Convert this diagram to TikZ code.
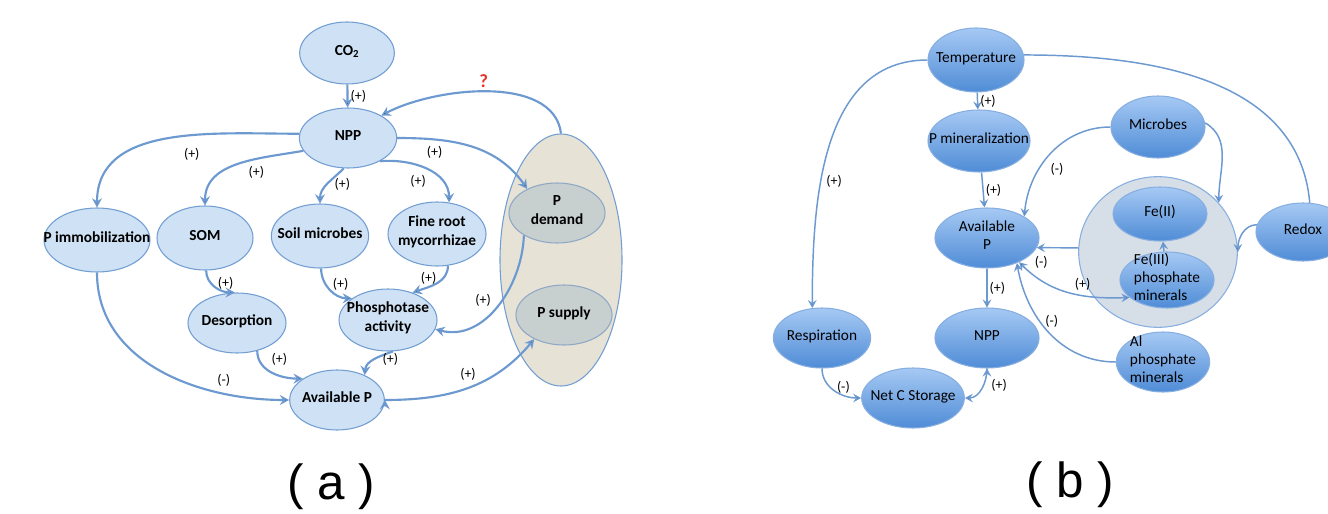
\documentclass[tikz,border=0pt]{standalone}
\usepackage{fontspec}
\setmainfont{Carlito}
\newfontfamily\capfont{Liberation Sans}
\usetikzlibrary{shapes.geometric,arrows.meta}

\definecolor{edgeblue}{HTML}{6C99D0}
\definecolor{lfill}{HTML}{CFE1F4}
\definecolor{lline}{HTML}{729ED3}
\definecolor{gfill}{HTML}{C8D0CF}
\definecolor{gline}{HTML}{8EA8C6}
\definecolor{beige}{HTML}{E6E2D6}
\definecolor{rtop}{HTML}{A6C9F4}
\definecolor{rbot}{HTML}{4F8CD6}
\definecolor{rline}{HTML}{86AEE0}
\definecolor{greyblue}{HTML}{D6DEE8}
\definecolor{qred}{HTML}{E5302E}

% node text takes no room, so the ellipse keeps its set size
\newcommand{\lbl}[1]{\raisebox{-3.6pt}{\smash{\makebox[0pt]{\begin{tabular}{@{}c@{}}#1\end{tabular}}}}}
\newcommand{\lbll}[1]{\raisebox{-3.6pt}{\smash{\makebox[0pt]{\begin{tabular}{@{}l@{}}#1\end{tabular}}}}}

\tikzset{
  lnode/.style={ellipse, draw=lline, fill=lfill, line width=0.8pt, minimum width=73pt,
    minimum height=46pt, inner sep=0pt, font=\fontsize{11.5}{14}\selectfont\bfseries},
  gnode/.style={lnode, fill=gfill, draw=gline},
  rnode/.style={ellipse, draw=rline, top color=rtop, bottom color=rbot, line width=0.8pt,
    minimum width=73pt, minimum height=45pt, inner sep=0pt, font=\fontsize{11.5}{13.5}\selectfont},
  larr/.style={draw=edgeblue, line width=1.6pt, -{Stealth[length=7pt,width=7.5pt,inset=2.5pt]}},
  rarr/.style={draw=edgeblue, line width=1.1pt, ->},
  sign/.style={font=\fontsize{10.5}{12}\selectfont, inner sep=1.5pt, text=black},
  >={Stealth[length=6pt,width=6.5pt,inset=2.2pt]}
}

\begin{document}
\begin{tikzpicture}[x=0.75pt,y=0.75pt]
\useasboundingbox (0,0) rectangle (1328,-514);

% (a)
\node[ellipse, draw=lline, fill=beige, line width=0.8pt, minimum width=91.5pt,
  minimum height=189pt, inner sep=0pt] (pbox) at (561,-260) {};
\node[lnode, minimum width=71pt, minimum height=46.5pt] (co2) at (347,-53) {\lbl{CO\textsubscript{2}}};
\node[lnode, minimum height=45pt] (npp) at (348,-138) {\lbl{NPP}};
\node[lnode, minimum width=79.5pt, minimum height=48pt] (pim) at (97,-240) {\lbl{P immobilization}};
\node[lnode, minimum width=72pt, minimum height=48pt] (som) at (205,-238) {\lbl{SOM}};
\node[lnode, minimum height=48pt] (smic) at (320,-236) {\lbl{Soil microbes}};
\node[lnode, minimum width=73.5pt, minimum height=48pt] (froot) at (437,-234) {\lbl{Fine root\\mycorrhizae}};
\node[lnode, minimum width=73.5pt, minimum height=45pt] (deso) at (237,-323) {\lbl{Desorption}};
\node[lnode, minimum width=73.5pt, minimum height=46.5pt] (phos) at (388,-320) {\lbl{Phosphotase\\activity}};
\node[lnode, minimum width=71pt, minimum height=45pt] (avp) at (337,-400) {\lbl{Available P}};
\node[gnode, minimum width=72pt, minimum height=45pt] (pdem) at (557,-213) {\lbl{P\\demand}};
\node[gnode, minimum width=72pt, minimum height=45pt] (psup) at (564,-315) {\lbl{P supply}};

\path[larr]
  (co2) edge node[sign,right] {(+)} (npp)
  (pbox.north) edge[out=97,in=28,looseness=0.85] node[pos=0.52,above=-1pt,text=qred,font=\fontsize{14}{15}\selectfont\bfseries] {?} (npp.34)
  (npp.175) edge[out=180,in=90] node[sign,pos=0.4,below=7pt] {(+)} (pim.north)
  (npp.196) edge[out=190,in=90] node[sign,pos=0.35,below=3pt] {(+)} (som.north)
  (npp.262) edge[out=225,in=90] node[sign,pos=0.5,right=3pt] {(+)} (smic.north)
  (npp.-36) edge[out=5,in=90] node[sign,pos=0.55,below left=1pt] {(+)} (froot.69)
  (npp.east) edge[out=0,in=125] node[sign,pos=0.24,below=3pt] {(+)} (pdem.141)
  (som.-88) edge[out=-90,in=180] node[sign,pos=0.35,right=3pt] {(+)} (deso.94)
  (smic.-88) edge[out=-90,in=180] node[sign,pos=0.35,right=3pt] {(+)} (phos.149)
  (froot.-71) edge[out=-90,in=20] node[sign,pos=0.3,left=3pt] {(+)} (phos.48)
  (pdem.214) edge[out=-92,in=-15] node[sign,pos=0.45,left=6pt] {(+)} (phos.-11)
  (deso.-54) edge[out=-90,in=180] node[sign,pos=0.4,above right=1pt] {(+)} (avp.148)
  (phos.-81) edge[out=200,in=85] node[sign,pos=0.5,right=4pt] {(+)} (avp.42)
  (pim.south) edge[out=-90,in=180] node[sign,pos=0.76,above=3pt] {(-)} (avp.west)
  (avp.east) edge[out=0,in=-130] node[sign,pos=0.5,above=3pt] {(+)} (psup.219);

\node[font=\capfont\fontsize{37}{40}\selectfont] (capa) at (331,-487) {( a )};

% (b)
\node[ellipse, draw=rline, fill=greyblue, line width=0.8pt, minimum width=119pt,
  minimum height=113pt, inner sep=0pt] (feb) at (1158,-252) {};
\node[rnode, minimum width=72pt, minimum height=48pt] (temp) at (976,-60) {\lbl{Temperature}};
\node[rnode, minimum width=76.5pt, minimum height=46.5pt] (pmin) at (979,-141) {\lbl{P mineralization}};
\node[rnode, minimum width=70.5pt, minimum height=46.5pt] (mic) at (1158,-127) {\lbl{Microbes}};
\node[rnode, minimum width=78pt] (avpb) at (987,-238) {\lbl{Available\\P}};
\node[rnode, minimum width=70.5pt, minimum height=40.5pt] (fe2) at (1160,-214) {\lbl{Fe(II)}};
\node[rnode, minimum width=70.5pt, minimum height=42pt] (fe3) at (1167,-280) {\lbll{Fe(III)\\phosphate\\minerals}};
\node[rnode, minimum width=70.5pt, minimum height=43.5pt] (redox) at (1303,-232) {\lbl{Redox}};
\node[rnode] (resp) at (822,-338) {\lbl{Respiration}};
\node[rnode, minimum width=78pt] (nppb) at (987,-338) {\lbl{NPP}};
\node[rnode, minimum width=70pt] (alp) at (1163,-362) {\lbll{Al\\phosphate\\minerals}};
\node[rnode, minimum width=77pt] (netc) at (913,-398) {\lbl{Net C Storage}};

\path[rarr]
  (temp) edge node[sign,right] {(+)} (pmin)
  (temp.west) edge[out=180,in=90] node[sign,pos=0.62,right=2pt] {(+)} (resp.108)
  (temp.6) edge[-,out=0,in=95] (redox.77)
  (pmin) edge node[sign,right] {(+)} (avpb)
  (mic.west) edge[out=180,in=85] node[sign,pos=0.55,below right=1pt] {(-)} (avpb.30)
  (mic.5) edge[out=-30,in=90] (feb.39)
  (redox.171) edge[out=180,in=90] (feb.0)
  (feb.177) edge (avpb.-11)
  (fe3) edge (fe2)
  (avpb.-37) edge[<->,out=-45,in=182] node[sign,pos=0.12,above right=1pt] {(-)} node[sign,pos=0.62,above=2pt] {(+)} (fe3.205)
  (alp.west) edge[out=180,in=-80] node[sign,pos=0.6,right=2pt] {(-)} (avpb.-40)
  (avpb) edge node[sign,right] {(+)} (nppb)
  (resp.south) edge[out=-90,in=180] node[sign,pos=0.4,right=3pt] {(-)} (netc.west)
  (nppb.south) edge[out=-90,in=0] node[sign,pos=0.4,right=4pt] {(+)} (netc.east);

\node[font=\capfont\fontsize{37}{40}\selectfont] (capb) at (1070,-485) {( b )};
\end{tikzpicture}
\end{document}
